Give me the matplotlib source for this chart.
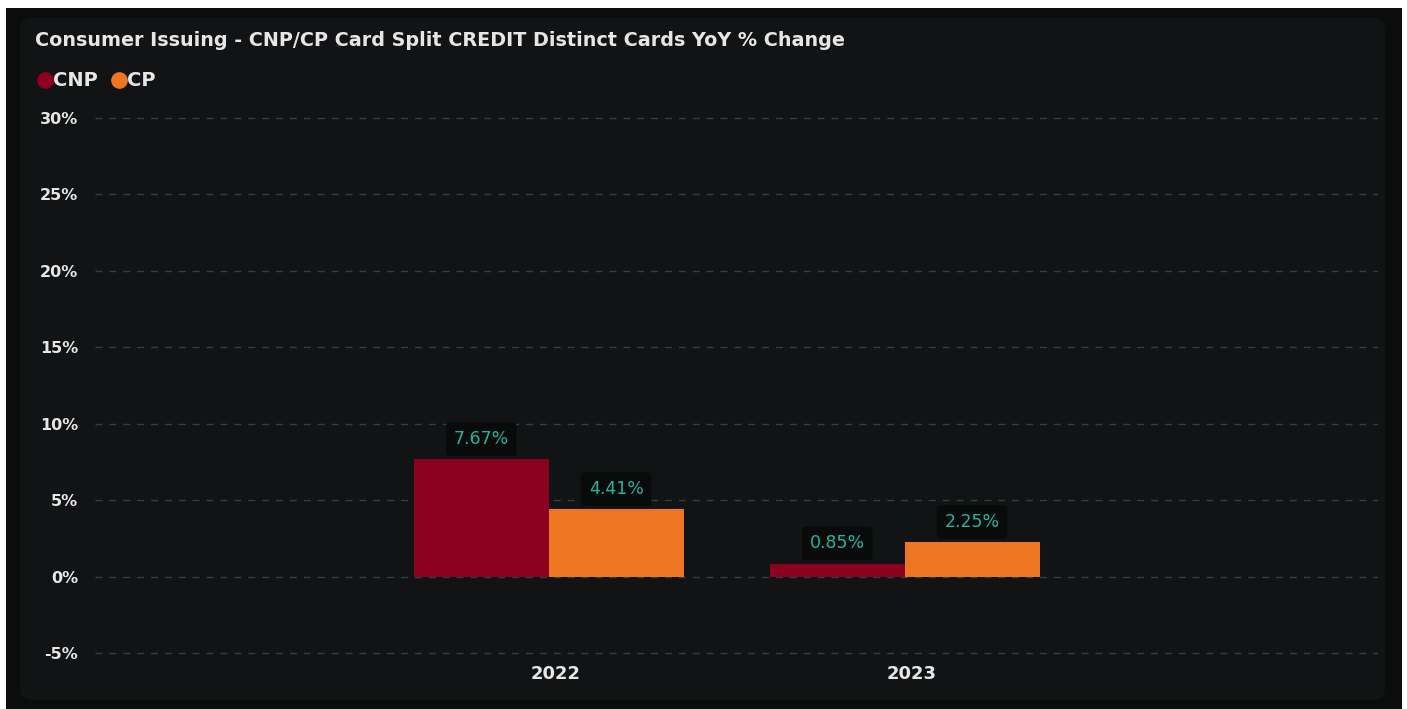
import matplotlib.pyplot as plt
import matplotlib.transforms as mtransforms
import numpy as np
from matplotlib.patches import FancyBboxPatch, Rectangle
from matplotlib.lines import Line2D

years = ['2022', '2023']
cnp = [7.67, 0.85]
cp = [4.41, 2.25]
yticks = [-5, 0, 5, 10, 15, 20, 25, 30]

c_cnp = '#8c0020'
c_cp = '#ee7623'
c_lbl = '#1fb5a3'
c_text = '#e6e6e6'

fig = plt.figure(figsize=(14.07, 7.09), dpi=100)
fig.patch.set_facecolor('white')

# outer frame + card (pixel coords, origin bottom-left)
fig.patches.append(Rectangle((6, 0), 1396, 701, transform=None,
                             facecolor='#0b0d0d', edgecolor='none', zorder=-10))
fig.patches.append(FancyBboxPatch((30, 19), 1345, 662, transform=None,
                                  boxstyle='round,pad=10,rounding_size=12',
                                  facecolor='#121315', edgecolor='none', zorder=-9))

ax = fig.add_axes([95 / 1407, 0.0725, (1378 - 95) / 1407, 0.840 - 0.0725])
ax.set_facecolor('none')

x = np.arange(len(years))
w = 0.379
b1 = ax.bar(x - w / 2, cnp, w, color=c_cnp, zorder=3)
b2 = ax.bar(x + w / 2, cp, w, color=c_cp, zorder=3)

for bars, vals in [(b1, cnp), (b2, cp)]:
    for r, v in zip(bars, vals):
        ax.annotate(f'{v:.2f}%', (r.get_x() + r.get_width() / 2, v),
                    xytext=(0, 8), textcoords='offset points',
                    ha='center', va='bottom', fontsize=12.5, color=c_lbl,
                    bbox=dict(boxstyle='round,pad=0.45,rounding_size=0.25',
                              fc='#090b0b', ec='none'), zorder=4)

ax.set_xlim(-1.275, 2.33)
ax.set_ylim(-5.3, 30.3)
ax.set_yticks(yticks)
ax.set_yticklabels([f'{t}%' for t in yticks], fontweight='bold')
ax.set_xticks(x)
ax.set_xticklabels(years, fontweight='bold')
ax.tick_params(axis='both', length=0, colors=c_text)
ax.tick_params(axis='y', pad=12, labelsize=11.5)
ax.tick_params(axis='x', pad=5, labelsize=13)
offset = mtransforms.ScaledTranslation(7 / 100, 0, fig.dpi_scale_trans)
for lbl in ax.get_xticklabels():
    lbl.set_transform(lbl.get_transform() + offset)
for s in ax.spines.values():
    s.set_visible(False)
ax.yaxis.grid(True, color='#3a3c3e', linestyle=(0, (5, 5)), linewidth=1, zorder=0)

fig.text(35 / 1407, 1 - 40 / 709, 'Consumer Issuing - CNP/CP Card Split CREDIT Distinct Cards YoY % Change',
         fontsize=13.8, fontweight='bold', color=c_text, va='center', ha='left')

handles = [Line2D([], [], marker='o', ls='none', color=c_cnp, markersize=11, label='CNP'),
           Line2D([], [], marker='o', ls='none', color=c_cp, markersize=11, label='CP')]
leg = fig.legend(handles=handles, loc='center left', bbox_to_anchor=(18 / 1407, 1 - 81 / 709),
                 ncol=2, frameon=False, handletextpad=-0.1, columnspacing=0.6,
                 handlelength=1.0, prop={'weight': 'bold', 'size': 14})
for t in leg.get_texts():
    t.set_color(c_text)

fig.savefig('out.png', dpi=100, facecolor=fig.get_facecolor())
